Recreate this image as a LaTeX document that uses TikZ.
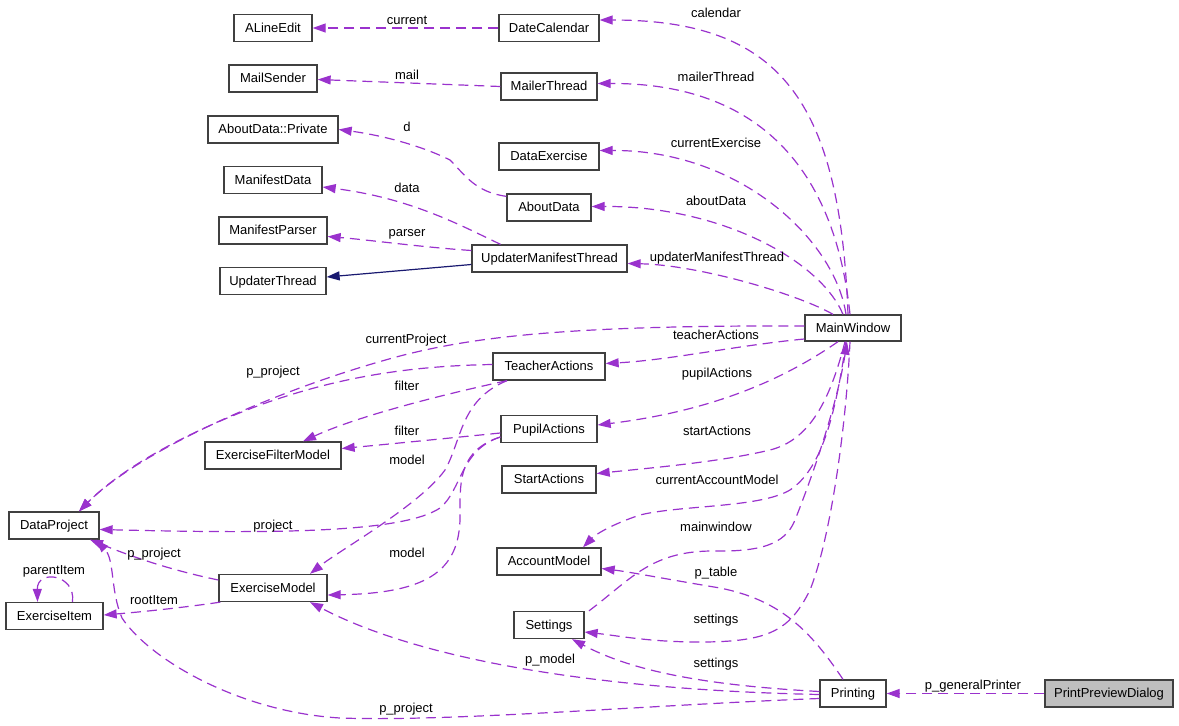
\documentclass[tikz,border=0pt]{standalone}
\usepackage{fontspec}
\setmainfont{Liberation Sans}
\usetikzlibrary{arrows.meta}
\definecolor{depc}{HTML}{9A32CD}
\definecolor{inhc}{HTML}{191970}
\definecolor{rootfill}{HTML}{BFBFBF}
\begin{document}
\begin{tikzpicture}[x=1pt,y=-1pt,
  cls/.style={draw=black!75, line width=1.3pt, fill=white, minimum height=27pt, inner sep=0pt,
    text height=9.5pt, text depth=1.5pt, font=\fontsize{13}{15}\selectfont},
  rootcls/.style={cls, fill=rootfill},
  dep/.style={draw=depc, line width=1.2pt, dash pattern=on 10pt off 6pt,
    -{Triangle[length=13pt,width=9pt]}},
  inh/.style={draw=inhc, line width=1.2pt, -{Triangle[length=13pt,width=9pt]}},
  lbl/.style={anchor=base, inner sep=0pt, font=\fontsize{13}{15}\selectfont}]
\useasboundingbox (0,0) rectangle (1179,726);

% classes
\node[cls, minimum width=78pt]  (alineedit)  at (273,28)    {ALineEdit};
\node[cls, minimum width=100pt] (datecal)    at (549,28)    {DateCalendar};
\node[cls, minimum width=88pt]  (mailsender) at (273,78.5)  {MailSender};
\node[cls, minimum width=96pt]  (mailer)     at (549,86.5)  {MailerThread};
\node[cls, minimum width=130pt] (adpriv)     at (273,129.5) {AboutData::Private};
\node[cls, minimum width=100pt] (dataex)     at (549,156.5) {DataExercise};
\node[cls, minimum width=98pt]  (mandata)    at (273,180)   {ManifestData};
\node[cls, minimum width=84pt]  (aboutdata)  at (549,207.5) {AboutData};
\node[cls, minimum width=108pt] (manparser)  at (273,230.5) {ManifestParser};
\node[cls, minimum width=155pt] (umt)        at (549.5,258.5) {UpdaterManifestThread};
\node[cls, minimum width=106pt] (updthread)  at (273,281)   {UpdaterThread};
\node[cls, minimum width=96pt, minimum height=26pt] (mw) at (853,328) {MainWindow};
\node[cls, minimum width=112pt] (teacher)    at (549,366.5) {TeacherActions};
\node[cls, minimum width=96pt]  (pupil)      at (549,429)   {PupilActions};
\node[cls, minimum width=94pt]  (start)      at (549,479.5) {StartActions};
\node[cls, minimum width=136pt] (efm)        at (273,455.5) {ExerciseFilterModel};
\node[cls, minimum width=90pt]  (dp)         at (54,525.5)  {DataProject};
\node[cls, minimum width=108pt] (em)         at (273,588)   {ExerciseModel};
\node[cls, minimum width=97pt]  (ei)         at (54.5,616)  {ExerciseItem};
\node[cls, minimum width=104pt] (acc)        at (549,561.5) {AccountModel};
\node[cls, minimum width=70pt]  (settings)   at (549,625)   {Settings};
\node[cls, minimum width=66pt]  (printing)   at (853,693.5) {Printing};
\node[rootcls, minimum width=128pt] (ppd)    at (1109,693.5) {PrintPreviewDialog};

% upper left group
\draw[dep] (datecal.west) -- (alineedit.east);
\draw[dep] (mailer.west) -- ([yshift=-1pt]mailsender.east);
\draw[dep] ([yshift=-3pt]aboutdata.north west) .. controls (475,192) and (465,175) .. (450,160)
   .. controls (420,145) and (380,135) .. (adpriv.east);
\draw[dep] ([xshift=-49pt]umt.north) .. controls (460,225) and (410,198) .. ([yshift=-7pt]mandata.east);
\draw[dep] ([yshift=8pt]umt.west) .. controls (420,247) and (370,240) .. ([yshift=-6pt]manparser.east);
\draw[inh] ([yshift=-6pt]umt.west) -- ([yshift=4pt]updthread.east);

% from MainWindow top
\draw[dep] ([xshift=-5pt]mw.north) .. controls (840,100) and (780,20) .. ([yshift=8pt]datecal.east);
\draw[dep] ([xshift=-3pt]mw.north) .. controls (835,170) and (760,83) .. ([yshift=3pt]mailer.east);
\draw[dep] ([xshift=-7pt]mw.north) .. controls (835,240) and (740,150) .. ([yshift=6pt]dataex.east);
\draw[dep] ([xshift=-10pt]mw.north) .. controls (820,260) and (720,206) .. ([yshift=1pt]aboutdata.east);
\draw[dep] ([xshift=-20pt]mw.north) .. controls (800,295) and (700,265) .. ([yshift=-5pt]umt.east);

% from MainWindow left
\draw[dep] ([yshift=2pt]mw.west) .. controls (560,325) and (470,338) .. (400,356)
   .. controls (280,388) and (140,450) .. ([xshift=25pt]dp.north);
\draw[dep] ([yshift=-11pt]mw.west) .. controls (740,345) and (670,360) .. ([yshift=3pt]teacher.east);

% TeacherActions
\draw[dep] ([yshift=2pt]teacher.west) .. controls (400,366) and (330,380) .. (260,405)
   .. controls (180,435) and (120,470) .. ([xshift=25pt]dp.north);
\draw[dep] ([xshift=-42pt]teacher.south) .. controls (450,393) and (360,415) .. ([xshift=30pt]efm.north);
\draw[dep] ([xshift=-42pt]teacher.south) .. controls (460,400) and (462,440) .. (445,470)
   .. controls (420,505) and (340,550) .. ([xshift=37pt]em.north);

% PupilActions
\draw[dep] ([yshift=-4pt]pupil.west) .. controls (450,438) and (390,444) .. ([yshift=7pt]efm.east);
\draw[dep] ([yshift=-8pt]pupil.west) .. controls (460,450) and (462,490) .. (440,508)
   .. controls (400,535) and (250,533) .. ([yshift=-4pt]dp.east);
\draw[dep] ([yshift=-8pt]pupil.west) .. controls (460,450) and (460,480) .. (460,510)
   .. controls (462,570) and (430,593) .. ([yshift=-7pt]em.east);

% from MainWindow bottom
\draw[dep] ([xshift=-15pt]mw.south) .. controls (790,375) and (720,410) .. ([yshift=4pt]pupil.east);
\draw[dep] ([xshift=-8pt]mw.south) .. controls (830,400) and (810,440) .. (770,450)
   .. controls (720,462) and (650,468) .. ([yshift=6pt]start.east);
\draw[dep] ([xshift=-7pt]mw.south) .. controls (835,420) and (820,470) .. (790,490)
   .. controls (760,508) and (680,505) .. (640,515)
   .. controls (610,525) and (595,535) .. ([xshift=34pt]acc.north);
\draw[dep] ([xshift=40pt]settings.north) .. controls (630,580) and (650,552) .. (710,551)
   .. controls (760,552) and (785,545) .. (795,520)
   .. controls (815,470) and (838,400) .. ([xshift=-6pt]mw.south);
\draw[dep] ([xshift=-3pt]mw.south) .. controls (846,430) and (830,540) .. (810,590)
   .. controls (790,630) and (770,642) .. (700,642)
   .. controls (650,642) and (620,636) .. ([yshift=-7pt]settings.east);

% Printing
\draw[dep] ([xshift=-10pt]printing.north) .. controls (810,630) and (780,600) .. (720,588)
   .. controls (660,578) and (630,572) .. ([yshift=-7pt]acc.east);
\draw[dep] ([yshift=2pt]printing.west) .. controls (700,685) and (630,670) .. ([xshift=23pt]settings.south);
\draw[dep] ([yshift=-1pt]printing.west) .. controls (600,690) and (420,660) .. ([xshift=37pt]em.south);
\draw[dep] ([yshift=-5pt]printing.west) .. controls (650,705) and (450,722) .. (340,718)
   .. controls (240,712) and (150,660) .. (122,618)
   .. controls (110,590) and (115,560) .. ([xshift=42pt]dp.south);
\draw[dep] (ppd.west) -- (printing.east);

% ExerciseModel / ExerciseItem
\draw[dep] ([yshift=8pt]em.west) .. controls (170,570) and (130,556) .. ([xshift=36pt]dp.south);
\draw[dep] ([xshift=2pt]em.south west) .. controls (180,608) and (140,612) .. ([yshift=1pt]ei.east);
\draw[dep] ([xshift=18pt]ei.north) .. controls (76,574) and (37,569) .. ([xshift=-17pt]ei.north);

% labels
\node[lbl] (l1)  at (407,24.5)  {current};
\node[lbl] (l2)  at (407,79.5)  {mail};
\node[lbl] (l3)  at (407,131.5) {d};
\node[lbl] (l4)  at (407,192.5) {data};
\node[lbl] (l5)  at (407,236.5) {parser};
\node[lbl] (l6)  at (716,17.5)  {calendar};
\node[lbl] (l7)  at (716,81.5)  {mailerThread};
\node[lbl] (l8)  at (716,147.5) {currentExercise};
\node[lbl] (l9)  at (716,205.5) {aboutData};
\node[lbl] (l10) at (717,261)   {updaterManifestThread};
\node[lbl] (l11) at (716,339.5) {teacherActions};
\node[lbl] (l12) at (406,343)   {currentProject};
\node[lbl] (l13) at (273,375)   {p\_project};
\node[lbl] (l14) at (407,390.5) {filter};
\node[lbl] (l15) at (407,435.5) {filter};
\node[lbl] (l16) at (407,464.5) {model};
\node[lbl] (l17) at (407,557.5) {model};
\node[lbl] (l18) at (717,377)   {pupilActions};
\node[lbl] (l19) at (717,435.5) {startActions};
\node[lbl] (l20) at (717,484.5) {currentAccountModel};
\node[lbl] (l21) at (716,531.5) {mainwindow};
\node[lbl] (l22) at (716,576)   {p\_table};
\node[lbl] (l23) at (716,623.5) {settings};
\node[lbl] (l24) at (716,667)   {settings};
\node[lbl] (l25) at (550,663)   {p\_model};
\node[lbl] (l26) at (273,529)   {project};
\node[lbl] (l27) at (154,557)   {p\_project};
\node[lbl] (l28) at (154,604.5) {rootItem};
\node[lbl] (l29) at (54,574)    {parentItem};
\node[lbl] (l30) at (406,712)   {p\_project};
\node[lbl] (l31) at (973,689)   {p\_generalPrinter};
\end{tikzpicture}
\end{document}
